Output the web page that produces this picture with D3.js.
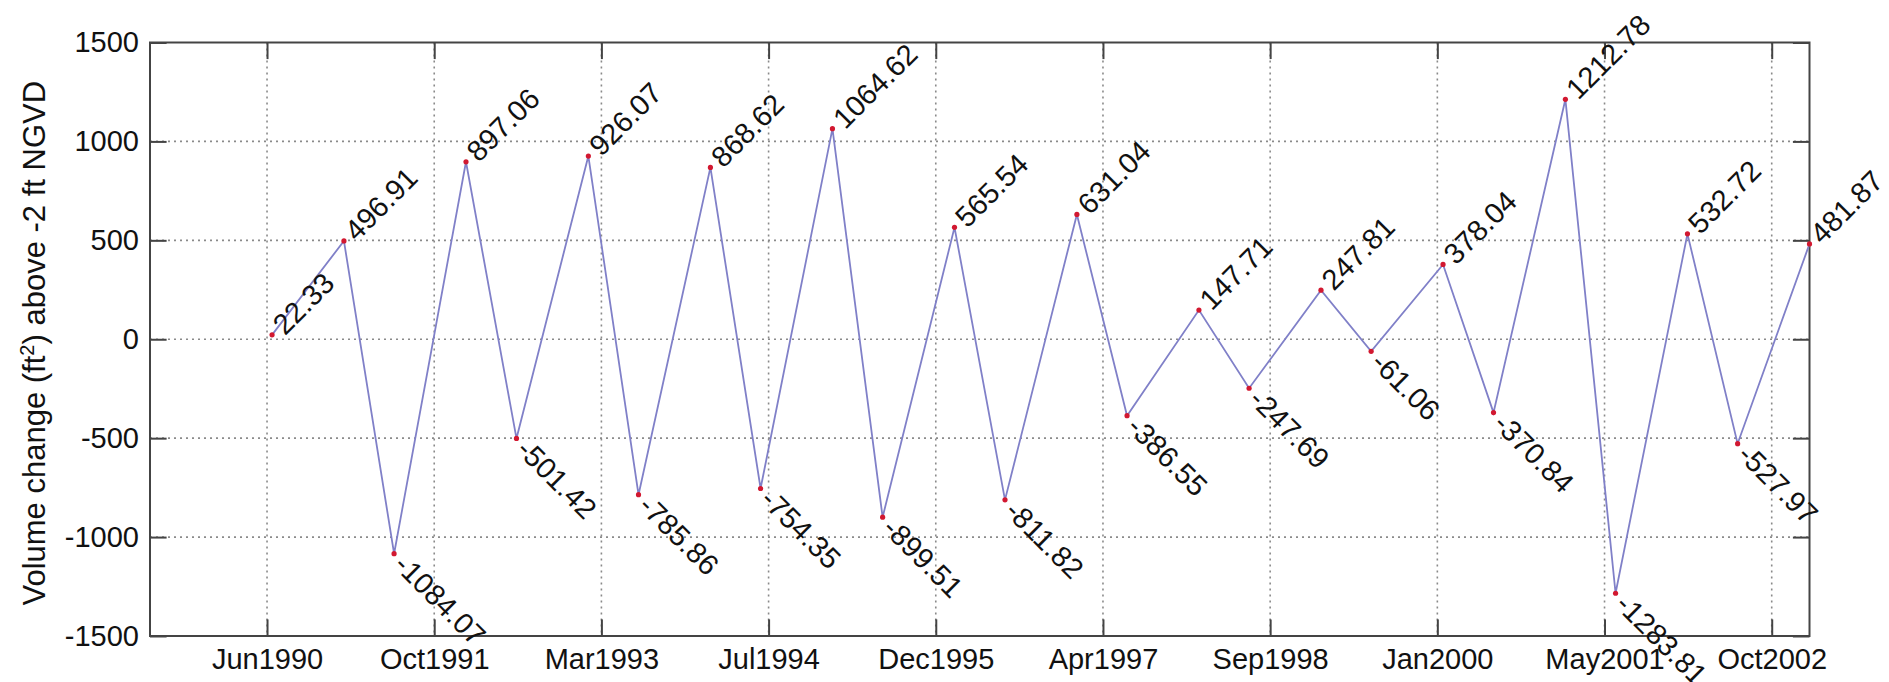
<!DOCTYPE html>
<html>
<head>
<meta charset="utf-8">
<script src="https://cdn.jsdelivr.net/npm/d3@7"></script>
<style>
  html, body { margin: 0; padding: 0; background: #fff; }
  svg { display: block; }
  text { font-family: "Liberation Sans", Arial, sans-serif; fill: #111; }
</style>
</head>
<body>
<svg id="chart" width="1889" height="682"></svg>
<script>
// Survey dates (approx. early July / early February each year)
const surveyDates = [
  "1990-07-01","1991-02-01","1991-07-01","1992-02-01","1992-07-01","1993-02-01",
  "1993-07-01","1994-02-01","1994-07-01","1995-02-01","1995-07-01","1996-02-01",
  "1996-07-01","1997-02-01","1997-07-01","1998-02-01","1998-07-01","1999-02-01",
  "1999-07-01","2000-02-01","2000-07-01","2001-02-01","2001-07-01","2002-02-01",
  "2002-07-01","2003-02-01"
];
const volumeChange = [
  22.33, 496.91, -1084.07, 897.06, -501.42, 926.07,
  -785.86, 868.62, -754.35, 1064.62, -899.51, 565.54,
  -811.82, 631.04, -386.55, 147.71, -247.69, 247.81,
  -61.06, 378.04, -370.84, 1212.78, -1283.81, 532.72,
  -527.97, 481.87
];
const xTickDates = [
  "1990-06-16","1991-10-29","1993-03-12","1994-07-25","1995-12-07",
  "1997-04-20","1998-09-02","2000-01-15","2001-05-29","2002-10-11"
];
const xTickLabels = [
  "Jun1990","Oct1991","Mar1993","Jul1994","Dec1995",
  "Apr1997","Sep1998","Jan2000","May2001","Oct2002"
];
const yTicks = [-1500, -1000, -500, 0, 500, 1000, 1500];
const xDomain = ["1989-07-01", "2003-02-01"];
const yDomain = [-1500, 1500];

(function () {
const parse = d3.utcParse("%Y-%m-%d");
const data = surveyDates.map((d, i) => ({ date: parse(d), value: volumeChange[i] }));
const ticks = xTickDates.map((d, i) => ({ date: parse(d), label: xTickLabels[i] }));

const L = 150, R = 1809.5, T = 42.5, B = 636;
const tickLen = 16.6;
const fontSize = 29;

const svg = d3.select("#chart");
const x = d3.scaleUtc().domain(xDomain.map(parse)).range([L, R]);
const y = d3.scaleLinear().domain(yDomain).range([B, T]);

// Grid lines
const grid = svg.append("g");
grid.selectAll("line.vg").data(ticks).join("line")
  .attr("x1", d => x(d.date)).attr("x2", d => x(d.date))
  .attr("y1", T).attr("y2", B)
  .attr("stroke", "#8a8a8a").attr("stroke-width", 1.6)
  .attr("stroke-dasharray", "2,4");
grid.selectAll("line.hg").data(yTicks.filter(v => v > yDomain[0] && v < yDomain[1])).join("line")
  .attr("x1", L).attr("x2", R)
  .attr("y1", d => y(d)).attr("y2", d => y(d))
  .attr("stroke", "#8a8a8a").attr("stroke-width", 1.6)
  .attr("stroke-dasharray", "2,4");

const axisColor = "#444";
function styleAxis(g) {
  g.select(".domain").remove();
  g.selectAll(".tick line").attr("stroke", axisColor).attr("stroke-width", 2);
  g.selectAll(".tick text").attr("font-size", fontSize)
    .style("font-family", '"Liberation Sans", Arial, sans-serif').attr("fill", "#111");
}
const xAxisB = d3.axisBottom(x).tickValues(ticks.map(d => d.date))
  .tickFormat((d, i) => xTickLabels[i]).tickSizeInner(-tickLen).tickSizeOuter(0).tickPadding(12);
svg.append("g").attr("transform", `translate(0,${B})`).call(xAxisB).call(styleAxis);
const xAxisT = d3.axisTop(x).tickValues(ticks.map(d => d.date)).tickFormat("")
  .tickSizeInner(-tickLen).tickSizeOuter(0);
svg.append("g").attr("transform", `translate(0,${T})`).call(xAxisT).call(styleAxis);

const yAxisL = d3.axisLeft(y).tickValues(yTicks).tickFormat(d => String(d))
  .tickSizeInner(-tickLen).tickSizeOuter(0).tickPadding(11);
svg.append("g").attr("transform", `translate(${L},0)`).call(yAxisL).call(styleAxis);
const yAxisR = d3.axisRight(y).tickValues(yTicks).tickFormat("")
  .tickSizeInner(-tickLen).tickSizeOuter(0);
svg.append("g").attr("transform", `translate(${R},0)`).call(yAxisR).call(styleAxis);

// Frame
svg.append("rect").attr("x", L).attr("y", T)
  .attr("width", R - L).attr("height", B - T)
  .attr("fill", "none").attr("stroke", axisColor).attr("stroke-width", 2);

// Line
const line = d3.line().x(d => x(d.date)).y(d => y(d.value));
svg.append("path").datum(data).attr("d", line)
  .attr("fill", "none").attr("stroke", "#8080c8").attr("stroke-width", 1.8);

// Markers
svg.selectAll("circle.pt").data(data).join("circle")
  .attr("cx", d => x(d.date)).attr("cy", d => y(d.value)).attr("r", 2.6)
  .attr("fill", "#d21830");

// Data labels
svg.selectAll("text.lbl").data(data).join("text")
  .attr("class", "lbl")
  .attr("transform", d => `translate(${x(d.date)},${y(d.value)}) rotate(${d.value >= 0 ? -45 : 45})`)
  .attr("x", 8).attr("dy", "0.35em")
  .attr("font-size", fontSize)
  .text(d => d.value.toFixed(2));

// Y label
const yl = svg.append("text")
  .attr("transform", `translate(45,${(T + B) / 2 + 4}) rotate(-90)`)
  .attr("text-anchor", "middle").attr("font-size", 31);
yl.append("tspan").text("Volume change (ft");
yl.append("tspan").attr("baseline-shift", "super").attr("font-size", 20).text("2");
yl.append("tspan").attr("baseline-shift", "0").text(") above -2 ft NGVD");
})();
</script>
</body>
</html>
